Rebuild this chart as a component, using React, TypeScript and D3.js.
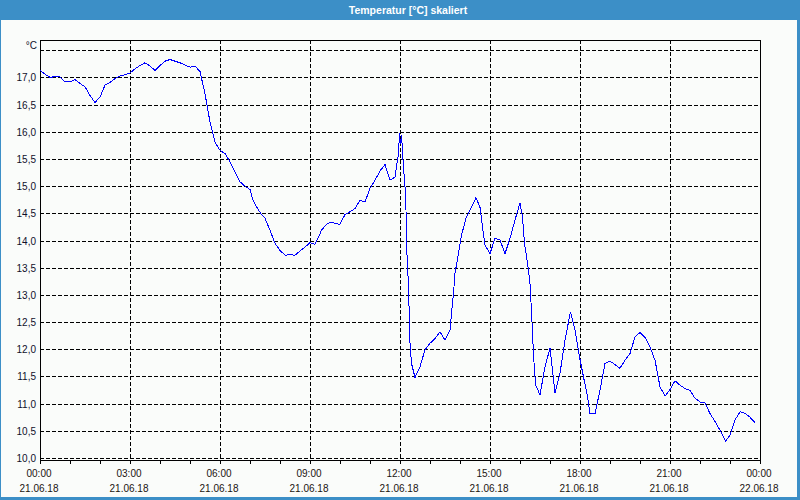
import React from "react";
import * as d3 from "d3";

const chartTitle = "Temperatur [°C] skaliert";
const unitLabel = "°C";

// minutes after 21.06.18 00:00
const sampleMinutes = [
  0, 13, 21, 30, 40, 50, 60, 70, 80, 90, 100, 110, 120, 130, 140, 150, 160, 170, 180, 190,
  200, 210, 220, 230, 240, 250, 260, 270, 280, 290, 300, 310, 320, 330, 340, 350, 360, 370, 380, 390,
  400, 410, 420, 426, 433, 443, 450, 460, 470, 480, 490, 500, 510, 520, 530, 540, 550, 556, 563, 573,
  583, 593, 600, 610, 620, 630, 640, 650, 660, 670, 680, 690, 700, 710, 717, 719, 721, 723, 726, 730,
  732, 733, 737, 740, 743, 750, 760, 770, 780, 790, 800, 810, 820, 823, 827, 830, 837, 843, 853, 863,
  872, 880, 885, 890, 900, 910, 920, 930, 940, 950, 960, 965, 969, 977, 980, 983, 987, 991, 1000, 1010,
  1020, 1030, 1040, 1050, 1061, 1070, 1079, 1087, 1095, 1100, 1110, 1120, 1130, 1140, 1150, 1160, 1170, 1180, 1190, 1200,
  1210, 1220, 1230, 1240, 1250, 1260, 1270, 1280, 1290, 1300, 1310, 1320, 1330, 1340, 1350, 1360, 1371, 1380, 1390, 1400,
  1410, 1420, 1430,
];

const temperatures = [
  17.13, 17.04, 17.0, 17.02, 17.01, 16.92, 16.92, 16.96, 16.89, 16.83, 16.67, 16.54, 16.64, 16.86, 16.91, 16.98, 17.03, 17.05, 17.08, 17.16,
  17.22, 17.27, 17.21, 17.13, 17.22, 17.3, 17.33, 17.3, 17.27, 17.23, 17.19, 17.21, 17.11, 16.7, 16.18, 15.81, 15.66, 15.6, 15.45, 15.26,
  15.08, 15.0, 14.94, 14.74, 14.62, 14.48, 14.41, 14.19, 13.95, 13.82, 13.73, 13.74, 13.73, 13.81, 13.88, 13.96, 13.93, 14.04, 14.19, 14.3,
  14.34, 14.31, 14.3, 14.48, 14.53, 14.59, 14.74, 14.71, 14.96, 15.11, 15.28, 15.4, 15.11, 15.17, 15.6, 15.97, 15.78, 15.95, 15.48, 14.99,
  14.56, 13.95, 13.15, 12.11, 11.74, 11.48, 11.68, 11.99, 12.11, 12.2, 12.32, 12.17, 12.35, 12.66, 13.03, 13.4, 13.76, 14.1, 14.44, 14.61,
  14.79, 14.61, 14.25, 13.92, 13.76, 14.04, 14.01, 13.76, 14.04, 14.38, 14.69, 14.44, 13.95, 13.46, 13.2, 12.7, 11.9, 11.35, 11.16, 11.68,
  12.02, 11.19, 11.56, 12.17, 12.69, 12.35, 11.86, 11.49, 11.13, 10.81, 10.81, 11.25, 11.74, 11.78, 11.72, 11.65, 11.8, 11.92, 12.23, 12.31,
  12.22, 12.04, 11.8, 11.31, 11.14, 11.26, 11.42, 11.34, 11.28, 11.24, 11.1, 11.03, 11.01, 10.82, 10.67, 10.51, 10.31, 10.42, 10.7, 10.85,
  10.82, 10.75, 10.65,
];

const xTickHours = [0, 3, 6, 9, 12, 15, 18, 21, 24];
const xTickTimes = ["00:00", "03:00", "06:00", "09:00", "12:00", "15:00", "18:00", "21:00", "00:00"];
const xTickDates = ["21.06.18", "21.06.18", "21.06.18", "21.06.18", "21.06.18", "21.06.18", "21.06.18", "21.06.18", "22.06.18"];
const yTickValues = [10.0, 10.5, 11.0, 11.5, 12.0, 12.5, 13.0, 13.5, 14.0, 14.5, 15.0, 15.5, 16.0, 16.5, 17.0];
const yGridValues = [10.0, 10.5, 11.0, 11.5, 12.0, 12.5, 13.0, 13.5, 14.0, 14.5, 15.0, 15.5, 16.0, 16.5, 17.0, 17.5];

const W = 800;
const H = 500;
const PL = 40;
const PR = 760;
const PT = 40;
const PB = 460;
const BLUE = "#3c8fc7";
const BG = "#fafcfa";
const FONT = "'Liberation Sans', Arial, sans-serif";

export default function App() {
  const base = new Date(2018, 5, 21, 0, 0, 0);
  const toDate = (m: number) => new Date(base.getTime() + m * 60000);
  const x = d3.scaleTime().domain([base, toDate(24 * 60)]).range([PL, PR]);
  const y = d3.scaleLinear().domain([10, 17.5]).range([458, 50.3]);

  const data = sampleMinutes.map((m, i) => ({ t: toDate(m), v: temperatures[i] }));
  const line = d3
    .line<{ t: Date; v: number }>()
    .x((d) => x(d.t))
    .y((d) => y(d.v));

  const hourTicks = d3.range(0, 25).map((h) => toDate(h * 60));
  const px = (v: number) => Math.round(v) + 0.5;

  return (
    <svg
      width={W}
      height={H}
      style={{ position: "absolute", left: 0, top: 0, display: "block" }}
    >
      <rect x={0} y={0} width={W} height={H} fill={BLUE} />
      <rect x={1} y={20} width={796} height={477} fill={BG} />
      <text
        x={408}
        y={14}
        textAnchor="middle"
        fill="#ffffff"
        fontFamily={FONT}
        fontWeight="bold"
        fontSize={10.5}
      >
        {chartTitle}
      </text>

      {/* horizontal grid */}
      {yGridValues.map((v) => (
        <line
          key={"hg" + v}
          x1={PL}
          x2={PR}
          y1={px(y(v))}
          y2={px(y(v))}
          stroke="#000"
          strokeWidth={1}
          strokeDasharray="4,2"
          shapeRendering="crispEdges"
        />
      ))}
      {/* vertical grid */}
      {xTickHours.slice(1, -1).map((h) => (
        <line
          key={"vg" + h}
          x1={px(x(toDate(h * 60)))}
          x2={px(x(toDate(h * 60)))}
          y1={PT}
          y2={PB}
          stroke="#000"
          strokeWidth={1}
          strokeDasharray="4,2"
          shapeRendering="crispEdges"
        />
      ))}

      {/* frame */}
      <rect
        x={PL + 0.5}
        y={PT + 0.5}
        width={PR - PL}
        height={PB - PT}
        fill="none"
        stroke="#000"
        strokeWidth={1}
        shapeRendering="crispEdges"
      />

      {/* hour ticks */}
      {hourTicks.map((t, i) => (
        <line
          key={"ht" + i}
          x1={px(x(t))}
          x2={px(x(t))}
          y1={PB}
          y2={PB + 4}
          stroke="#000"
          strokeWidth={1}
          shapeRendering="crispEdges"
        />
      ))}

      {/* data line */}
      <path
        d={line(data) || ""}
        fill="none"
        stroke="#0000ff"
        strokeWidth={1}
        shapeRendering="crispEdges"
      />

      {/* y labels */}
      {yTickValues.map((v) => (
        <text
          key={"yl" + v}
          x={36}
          y={y(v) + 4}
          textAnchor="end"
          fill="#10102a"
          fontFamily={FONT}
          fontSize={10}
        >
          {v.toFixed(1).replace(".", ",")}
        </text>
      ))}
      <text x={37} y={49} textAnchor="end" fill="#10102a" fontFamily={FONT} fontSize={10}>
        {unitLabel}
      </text>

      {/* x labels */}
      {xTickHours.map((h, i) => {
        const cx = x(toDate(h * 60)) - 1;
        return (
          <g key={"xl" + i}>
            <text x={cx} y={477} textAnchor="middle" fill="#1a1410" fontFamily={FONT} fontSize={10}>
              {xTickTimes[i]}
            </text>
            <text x={cx} y={492} textAnchor="middle" fill="#1a1410" fontFamily={FONT} fontSize={10}>
              {xTickDates[i]}
            </text>
          </g>
        );
      })}
    </svg>
  );
}
